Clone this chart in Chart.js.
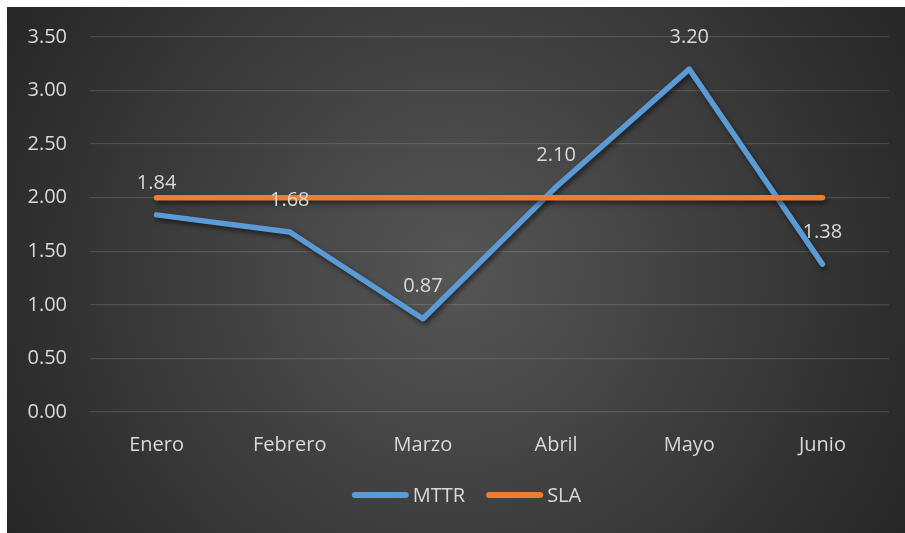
<!DOCTYPE html>
<html>
<head>
<meta charset="utf-8">
<script src="https://cdn.jsdelivr.net/npm/chart.js@4.4.0/dist/chart.umd.min.js"></script>
<style>
  html, body { margin: 0; padding: 0; background: #ffffff; }
  #wrap { position: absolute; left: 7px; top: 7px; width: 898px; height: 526px; }
</style>
</head>
<body>
<div id="wrap"><canvas id="c"></canvas></div>
<script>
const categories = ["Enero", "Febrero", "Marzo", "Abril", "Mayo", "Junio"];
const mttrValues = [1.84, 1.68, 0.87, 2.10, 3.20, 1.38];
const slaValues = [2.00, 2.00, 2.00, 2.00, 2.00, 2.00];
const yTicks = [0, 0.5, 1, 1.5, 2, 2.5, 3, 3.5];

const FONT = "'Open Sans', Carlito, Lato, sans-serif";
const FSIZE = 20;
const TEXT = "#d9d9d9";

const bgPlugin = {
  id: 'bg',
  beforeDraw(chart) {
    const { ctx, width, height } = chart;
    const g = ctx.createRadialGradient(width / 2, height / 2, 0, width / 2, height / 2, Math.hypot(width, height) / 2);
    g.addColorStop(0, '#565656');
    g.addColorStop(1, '#262626');
    ctx.save();
    ctx.fillStyle = g;
    ctx.fillRect(0, 0, width, height);
    ctx.restore();
  }
};

const shadowPlugin = {
  id: 'shadow',
  beforeDatasetDraw(chart) {
    const ctx = chart.ctx;
    ctx.save();
    ctx.shadowColor = 'rgba(0,0,0,0.55)';
    ctx.shadowBlur = 5;
    ctx.shadowOffsetX = 2;
    ctx.shadowOffsetY = 3;
  },
  afterDatasetDraw(chart) {
    chart.ctx.restore();
  }
};

const labelPlugin = {
  id: 'valueLabels',
  afterDatasetsDraw(chart) {
    const ctx = chart.ctx;
    const meta = chart.getDatasetMeta(0);
    const data = chart.data.datasets[0].data;
    ctx.save();
    ctx.font = FSIZE + "px " + FONT;
    ctx.fillStyle = TEXT;
    ctx.textAlign = 'center';
    ctx.textBaseline = 'middle';
    meta.data.forEach((pt, i) => {
      ctx.fillText(data[i].toFixed(2), pt.x, pt.y - 32);
    });
    ctx.restore();
  }
};

const legendPlugin = {
  id: 'customLegend',
  afterDraw(chart) {
    const ctx = chart.ctx;
    const dsets = chart.data.datasets;
    ctx.save();
    ctx.font = FSIZE + "px " + FONT;
    const lineLen = 57, gap = 4, spacing = 21;
    const widths = dsets.map(d => ctx.measureText(d.label).width);
    let total = 0;
    widths.forEach((w, i) => { total += lineLen + gap + w + (i < widths.length - 1 ? spacing : 0); });
    let x = 459.5 - total / 2;
    const y = 488;
    ctx.textBaseline = 'middle';
    ctx.textAlign = 'left';
    dsets.forEach((d, i) => {
      ctx.strokeStyle = d.borderColor;
      ctx.lineWidth = 6;
      ctx.lineCap = 'round';
      ctx.beginPath();
      ctx.moveTo(x + 3, y);
      ctx.lineTo(x + lineLen - 3, y);
      ctx.stroke();
      x += lineLen + gap;
      ctx.fillStyle = TEXT;
      ctx.fillText(d.label, x, y + 1);
      x += widths[i] + spacing;
    });
    ctx.restore();
  }
};

new Chart(document.getElementById('c'), {
  type: 'line',
  data: {
    labels: categories,
    datasets: [
      {
        label: 'MTTR',
        data: mttrValues,
        borderColor: '#5b9bd5',
        backgroundColor: '#5b9bd5',
        borderWidth: 5.5,
        borderCapStyle: 'round',
        borderJoinStyle: 'round',
        pointRadius: 0,
        tension: 0,
        order: 2
      },
      {
        label: 'SLA',
        data: slaValues,
        borderColor: '#ed7d31',
        backgroundColor: '#ed7d31',
        borderWidth: 5.5,
        borderCapStyle: 'round',
        borderJoinStyle: 'round',
        pointRadius: 0,
        tension: 0,
        order: 1
      }
    ]
  },
  options: {
    responsive: true,
    maintainAspectRatio: false,
    animation: false,
    layout: { padding: { left: 0, right: 16, top: 30, bottom: 58 } },
    plugins: {
      tooltip: { enabled: false },
      legend: { display: false }
    },
    scales: {
      x: {
        offset: true,
        grid: { display: false, drawTicks: false },
        border: { display: false },
        ticks: { color: TEXT, font: { family: FONT, size: FSIZE }, padding: 21 },
        afterFit(scale) { scale.height = 63; }
      },
      y: {
        min: 0,
        max: 3.5,
        afterBuildTicks(scale) { scale.ticks = yTicks.map(v => ({ value: v })); },
        grid: { color: 'rgba(217,217,217,0.16)', lineWidth: 1.3, drawTicks: false },
        border: { display: false },
        ticks: {
          color: TEXT,
          font: { family: FONT, size: FSIZE },
          padding: 23,
          callback: v => Number(v).toFixed(2)
        },
        afterFit(scale) {
          scale.width = 83;
          scale.paddingTop = 0;
          scale.paddingBottom = 0;
        }
      }
    }
  },
  plugins: [bgPlugin, shadowPlugin, labelPlugin, legendPlugin]
});
</script>
</body>
</html>
